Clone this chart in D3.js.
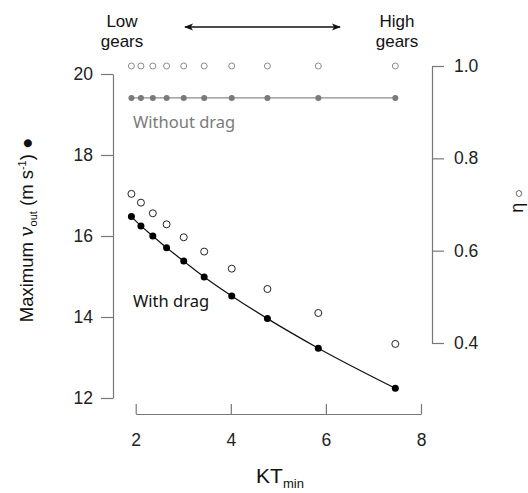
<!DOCTYPE html>
<html>
<head>
<meta charset="utf-8">
<script src="https://cdn.jsdelivr.net/npm/d3@7"></script>
<style>
  html, body { margin: 0; padding: 0; background: #fff; }
  svg { display: block; }
  .tick text { font-family: "Liberation Sans", Arial, sans-serif; font-size: 17.5px; fill: #222; }
  .domain, .tick line { stroke: #777; stroke-width: 1.2; }
</style>
</head>
<body>
<svg id="chart" width="528" height="493"></svg>
<script>
// data
var ktMin = [1.91, 2.11, 2.36, 2.65, 3.01, 3.44, 4.02, 4.77, 5.84, 7.46];
var vOutDrag = [16.48, 16.25, 16.0, 15.71, 15.38, 14.99, 14.52, 13.96, 13.23, 12.24];
var etaDrag = [0.723, 0.704, 0.681, 0.657, 0.629, 0.598, 0.561, 0.517, 0.465, 0.398];
var vOutNoDrag = [19.41, 19.41, 19.41, 19.41, 19.41, 19.41, 19.41, 19.41, 19.41, 19.41];
var etaNoDrag = [1.0, 1.0, 1.0, 1.0, 1.0, 1.0, 1.0, 1.0, 1.0, 1.0];
var xTicks = [2, 4, 6, 8];
var vTicks = [12, 14, 16, 18, 20];
var etaTicks = [0.4, 0.6, 0.8, 1.0];

var svg = d3.select('#chart');
var x = d3.scaleLinear().domain([2, 8]).range([135.7, 421]);
var yV = d3.scaleLinear().domain([12, 20]).range([398, 74]);
var yEta = d3.scaleLinear().domain([0.4, 1.0]).range([343, 66]);

// axes (R style, detached)
svg.append('g').attr('transform', 'translate(113,0)')
    .call(d3.axisLeft(yV).tickValues(vTicks).tickSize(12).tickSizeOuter(0).tickPadding(8).tickFormat(d3.format('d')));
svg.append('g').attr('transform', 'translate(432,0)')
    .call(d3.axisRight(yEta).tickValues(etaTicks).tickSize(12).tickSizeOuter(0).tickPadding(10).tickFormat(d3.format('.1f')));
svg.append('g').attr('transform', 'translate(0,414)')
    .call(d3.axisBottom(x).tickValues(xTicks).tickSize(-10).tickSizeOuter(0).tickPadding(20).tickFormat(d3.format('d')));
svg.selectAll('.tick text').attr('font-family', null).attr('font-size', null);

var ptsDrag = ktMin.map(function(k, i) { return [k, vOutDrag[i]]; });
var ptsNoDrag = ktMin.map(function(k, i) { return [k, vOutNoDrag[i]]; });

// without drag: grey line + points
svg.append('path')
    .attr('d', d3.line().x(d => x(d[0])).y(d => yV(d[1]))(ptsNoDrag))
    .attr('fill', 'none').attr('stroke', '#8c8c8c').attr('stroke-width', 1.3);
svg.selectAll('.nd-v').data(ptsNoDrag).enter().append('circle')
    .attr('cx', d => x(d[0])).attr('cy', d => yV(d[1])).attr('r', 3)
    .attr('fill', '#7a7a7a');
svg.selectAll('.nd-eta').data(ktMin).enter().append('circle')
    .attr('cx', d => x(d)).attr('cy', (d, i) => yEta(etaNoDrag[i])).attr('r', 3)
    .attr('fill', 'none').attr('stroke', '#8c8c8c').attr('stroke-width', 1);

// with drag: black curve + points
svg.append('path')
    .attr('d', d3.line().curve(d3.curveMonotoneX).x(d => x(d[0])).y(d => yV(d[1]))(ptsDrag))
    .attr('fill', 'none').attr('stroke', '#111').attr('stroke-width', 1.2);
svg.selectAll('.d-v').data(ptsDrag).enter().append('circle')
    .attr('cx', d => x(d[0])).attr('cy', d => yV(d[1])).attr('r', 3.5)
    .attr('fill', '#000');
svg.selectAll('.d-eta').data(ktMin).enter().append('circle')
    .attr('cx', d => x(d)).attr('cy', (d, i) => yEta(etaDrag[i])).attr('r', 3.5)
    .attr('fill', '#fff').attr('stroke', '#222').attr('stroke-width', 1);

// annotations
var hum = '"Noto Sans", "Open Sans", sans-serif';
svg.append('text').attr('x', 133).attr('y', 128).text('Without drag')
    .attr('font-family', hum).attr('font-size', 16.5).attr('fill', '#7a7a7a');
svg.append('text').attr('x', 133).attr('y', 307).text('With drag')
    .attr('font-family', hum).attr('font-size', 16.5).attr('fill', '#111');

var sans = '"Liberation Sans", Arial, sans-serif';
[['Low', 122], ['High', 397]].forEach(function(t) {
    svg.append('text').attr('text-anchor', 'middle').attr('x', t[1]).attr('y', 27)
        .attr('font-family', sans).attr('font-size', 17).attr('fill', '#111').text(t[0]);
    svg.append('text').attr('text-anchor', 'middle').attr('x', t[1]).attr('y', 47)
        .attr('font-family', sans).attr('font-size', 17).attr('fill', '#111').text('gears');
});

var defs = svg.append('defs');
defs.append('marker').attr('id', 'ah').attr('viewBox', '0 0 10 10')
    .attr('refX', 9).attr('refY', 5).attr('markerWidth', 9).attr('markerHeight', 9)
    .attr('markerUnits', 'userSpaceOnUse').attr('orient', 'auto-start-reverse')
    .append('path').attr('d', 'M0,1 L10,5 L0,9 L2.5,5 Z').attr('fill', '#111');
svg.append('line').attr('x1', 185).attr('x2', 340).attr('y1', 27).attr('y2', 27)
    .attr('stroke', '#111').attr('stroke-width', 1.3)
    .attr('marker-start', 'url(#ah)').attr('marker-end', 'url(#ah)');

// axis titles
var xl = svg.append('text').attr('x', 280).attr('y', 483).attr('text-anchor', 'middle')
    .attr('font-family', sans).attr('font-size', 21).attr('fill', '#111');
xl.append('tspan').text('KT');
xl.append('tspan').attr('font-size', 13).attr('dy', 5).text('min');

var yl = svg.append('text').attr('transform', 'translate(33,230) rotate(-90)')
    .attr('text-anchor', 'middle').attr('font-family', sans).attr('font-size', 18.5).attr('fill', '#111');
yl.append('tspan').text('Maximum ');
yl.append('tspan').attr('font-family', '"DejaVu Serif", serif').attr('font-style', 'italic').text('v');
yl.append('tspan').attr('font-size', 11).attr('dy', 4).text('out');
yl.append('tspan').attr('dy', -4).text(' (m s');
yl.append('tspan').attr('font-size', 11).attr('dy', -7).text('-1');
yl.append('tspan').attr('dy', 7).text(')  \u25CF');

var rl = svg.append('text').attr('transform', 'translate(523,201) rotate(-90)')
    .attr('text-anchor', 'middle').attr('font-family', sans).attr('font-size', 18).attr('fill', '#111');
rl.append('tspan').text('\u03B7 ');
rl.append('tspan').attr('font-size', 14).text('\u25CB');
</script>
</body>
</html>
